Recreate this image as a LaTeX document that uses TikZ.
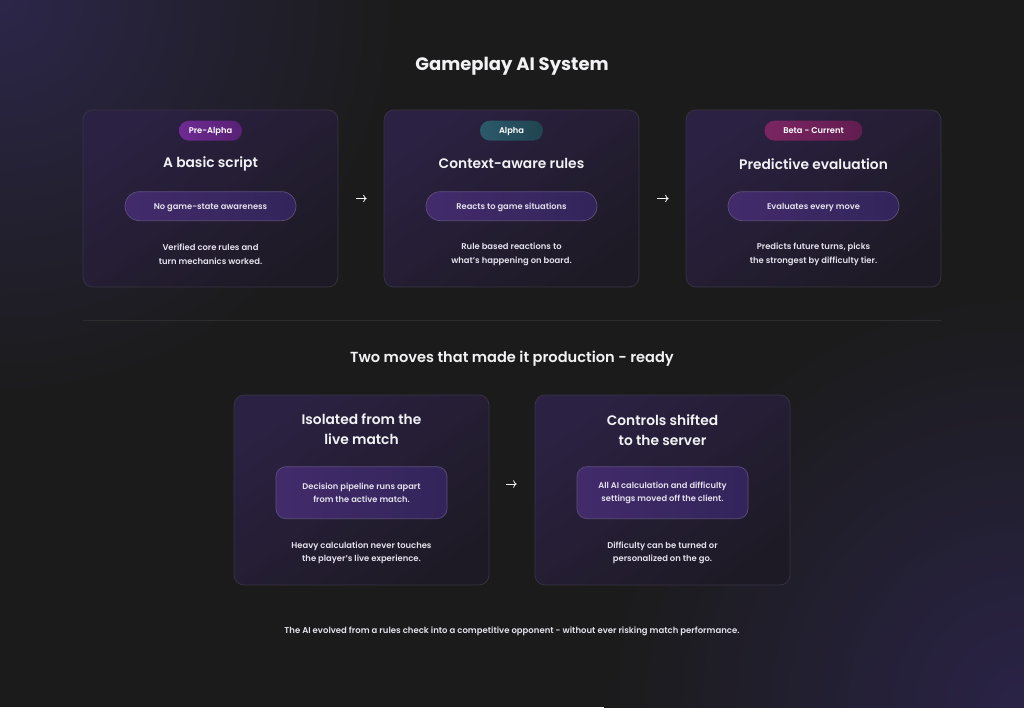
\documentclass[tikz,border=0pt]{standalone}
\usepackage{fontspec}
\setmainfont{Poppins}
\newfontfamily\pmed{Poppins Medium}
\newfontfamily\psemi{Poppins SemiBold}
\usetikzlibrary{arrows.meta,positioning,calc}

\definecolor{bg}{HTML}{1B1B1B}
\definecolor{glowA}{HTML}{2C2649}
\definecolor{glowB}{HTML}{2A2347}
\definecolor{cardA}{HTML}{2B2142}
\definecolor{cardB}{HTML}{1E1A25}
\definecolor{cardline}{HTML}{3A3446}
\definecolor{pillA}{HTML}{432B6B}
\definecolor{pillB}{HTML}{32255A}
\definecolor{pillline}{HTML}{5D4E7C}
\definecolor{preA}{HTML}{6E2A92}
\definecolor{alphaA}{HTML}{2B5A6B}
\definecolor{betaA}{HTML}{7A2563}
\definecolor{headtxt}{HTML}{F2F2F4}
\definecolor{bodytxt}{HTML}{E4E1EC}
\definecolor{rule}{HTML}{2E2E2E}

\tikzset{
  card/.style={draw=cardline, line width=0.7pt, rounded corners=10pt,
    top color=cardA, bottom color=cardB, shading angle=35,
    minimum width=255pt, inner sep=0pt},
  badge/.style={rounded corners=10pt, minimum width=63pt, minimum height=20pt,
    inner sep=0pt, text height=6pt, text depth=0pt, text=white,
    font=\psemi\fontsize{8.3}{9}\selectfont},
  heading/.style={text=headtxt, align=center, font=\psemi\fontsize{13.8}{20}\selectfont},
  pill/.style={draw=pillline, line width=0.7pt, rounded corners=14.5pt,
    left color=pillA, right color=pillB, minimum width=171pt, minimum height=29pt,
    inner sep=0pt, text=bodytxt, font=\psemi\fontsize{8.3}{13}\selectfont, align=center},
  onerow/.style={text height=6pt, text depth=0pt},
  desc/.style={text=bodytxt, align=center, font=\psemi\fontsize{8.4}{14}\selectfont},
  arr/.style={draw=headtxt!85, line width=0.8pt, -{To[length=3.5pt,width=7.5pt]}}
}

\begin{document}
\begin{tikzpicture}[x=1pt,y=-1pt]
\useasboundingbox (0,0) rectangle (1024,707);
\fill[bg] (0,0) rectangle (1024,707);
% glows in the corners
\begin{scope}
\clip (0,0) rectangle (1024,707);
\shade[inner color=glowA, outer color=bg] (0,0) circle (400);
\shade[inner color=glowB, outer color=bg] (1024,707) circle (420);
\end{scope}

\node[text=headtxt, font=\bfseries\fontsize{18}{22}\selectfont] (title) at (512,66) {Gameplay AI System};

% three stages
\node[card, minimum height=177pt] (c1) at (210.5,198.5) {};
\node[card, minimum height=177pt] (c2) at (511.5,198.5) {};
\node[card, minimum height=177pt] (c3) at (813.5,198.5) {};

\node[badge, left color=preA, right color=preA!80!black] (b1) at ([yshift=-21pt]c1.north) {Pre-Alpha};
\node[badge, left color=alphaA, right color=alphaA!75!black] (b2) at ([yshift=-21pt]c2.north) {Alpha};
\node[badge, minimum width=98pt, left color=betaA, right color=betaA!80!black] (b3) at ([yshift=-21pt]c3.north) {Beta - Current};

\node[heading] (h1) at ([yshift=-54pt]c1.north) {A basic script};
\node[heading] (h2) at ([yshift=-54pt]c2.north) {Context-aware rules};
\node[heading] (h3) at ([yshift=-54pt]c3.north) {Predictive evaluation};

\node[pill, onerow] (p1) at ([yshift=-96.5pt]c1.north) {No game-state awareness};
\node[pill, onerow] (p2) at ([yshift=-96.5pt]c2.north) {Reacts to game situations};
\node[pill, onerow] (p3) at ([yshift=-96.5pt]c3.north) {Evaluates every move};

\node[desc] (d1) at ([yshift=-145pt]c1.north) {Verified core rules and\\turn mechanics worked.};
\node[desc] (d2) at ([yshift=-145pt]c2.north) {Rule based reactions to\\what’s happening on board.};
\node[desc] (d3) at ([yshift=-145pt]c3.north) {Predicts future turns, picks\\the strongest by difficulty tier.};

\draw[arr, shorten <=18pt, shorten >=17pt] (c1.east) -- (c2.west);
\draw[arr, shorten <=18pt, shorten >=17pt] (c2.east) -- (c3.west);

\draw[rule, line width=0.8pt] (83,320) -- (941,320);

\node[text=headtxt, font=\psemi\fontsize{14.6}{18}\selectfont] (sub) at (512,359) {Two moves that made it production - ready};

% two moves
\node[card, minimum height=190pt] (m1) at (361.5,490) {};
\node[card, minimum height=190pt] (m2) at (662.5,490) {};

\node[heading] (mh1) at ([yshift=-35pt]m1.north) {Isolated from the\\live match};
\node[heading] (mh2) at ([yshift=-35pt]m2.north) {Controls shifted\\to the server};

\node[pill, minimum height=52pt, rounded corners=10pt] (mp1) at ([yshift=-98pt]m1.north) {Decision pipeline runs apart\\from the active match.};
\node[pill, minimum height=52pt, rounded corners=10pt] (mp2) at ([yshift=-98pt]m2.north) {All AI calculation and difficulty\\settings moved off the client.};

\node[desc, font=\psemi\fontsize{8.4}{13}\selectfont] (md1) at ([yshift=-158.5pt]m1.north) {Heavy calculation never touches\\the player’s live experience.};
\node[desc, font=\psemi\fontsize{8.4}{13}\selectfont] (md2) at ([yshift=-158.5pt]m2.north) {Difficulty can be turned or\\personalized on the go.};

\draw[arr, shorten <=17pt, shorten >=18pt] ([yshift=6pt]m1.east) -- ([yshift=6pt]m2.west);

\node[text=bodytxt, font=\psemi\fontsize{8.5}{10}\selectfont] (foot) at (512,631) {The AI evolved from a rules check into a competitive opponent - without ever risking match performance.};
\end{tikzpicture}
\end{document}
